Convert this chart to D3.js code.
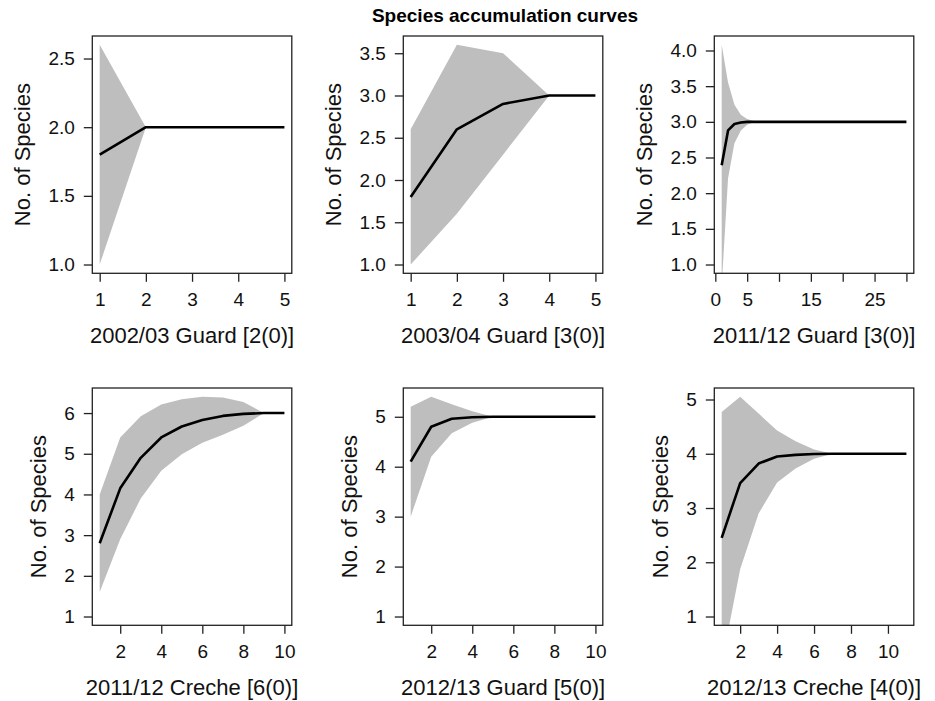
<!DOCTYPE html>
<html>
<head>
<meta charset="utf-8">
<script src="https://cdn.jsdelivr.net/npm/d3@7"></script>
<style>
	body { margin: 0; background: #fff; }
	svg { display: block; font-family: "Liberation Sans", Arial, sans-serif; }
</style>
</head>
<body>
<svg id="chart" width="935" height="701"></svg>
<script>
const chartTitle = 'Species accumulation curves';

// one entry per panel, reading order
const panelLabels = [
	'2002/03 Guard [2(0)]', '2003/04 Guard [3(0)]', '2011/12 Guard [3(0)]',
	'2011/12 Creche [6(0)]', '2012/13 Guard [5(0)]', '2012/13 Creche [4(0)]'
];

const sites1 = [1, 2, 3, 4, 5];
const richness1 = [1.8, 2, 2, 2, 2];
const upper1 = [2.6, 2, 2, 2, 2];
const lower1 = [1.0, 2, 2, 2, 2];

const sites2 = [1, 2, 3, 4, 5];
const richness2 = [1.8, 2.6, 2.9, 3, 3];
const upper2 = [2.6, 3.6, 3.5, 3, 3];
const lower2 = [1.0, 1.6, 2.3, 3, 3];

const sites3 = d3.range(1, 31);
const richness3 = [2.39, 2.88, 2.97, 2.99, 3, 3, 3, 3, 3, 3, 3, 3, 3, 3, 3,
	3, 3, 3, 3, 3, 3, 3, 3, 3, 3, 3, 3, 3, 3, 3];
const upper3 = [4.08, 3.55, 3.24, 3.1, 3.04, 3.01, 3, 3, 3, 3, 3, 3, 3, 3, 3,
	3, 3, 3, 3, 3, 3, 3, 3, 3, 3, 3, 3, 3, 3, 3];
const lower3 = [0.7, 2.21, 2.7, 2.88, 2.96, 2.99, 3, 3, 3, 3, 3, 3, 3, 3, 3,
	3, 3, 3, 3, 3, 3, 3, 3, 3, 3, 3, 3, 3, 3, 3];

const sites4 = [1, 2, 3, 4, 5, 6, 7, 8, 9, 10];
const richness4 = [2.8, 4.15, 4.9, 5.4, 5.67, 5.83, 5.93, 5.98, 6, 6];
const upper4 = [4.0, 5.4, 5.92, 6.21, 6.34, 6.4, 6.38, 6.27, 6, 6];
const lower4 = [1.6, 2.9, 3.9, 4.58, 4.99, 5.27, 5.47, 5.69, 6, 6];

const sites5 = [1, 2, 3, 4, 5, 6, 7, 8, 9, 10];
const richness5 = [4.1, 4.8, 4.96, 4.99, 5, 5, 5, 5, 5, 5];
const upper5 = [5.2, 5.4, 5.25, 5.11, 5, 5, 5, 5, 5, 5];
const lower5 = [3.0, 4.2, 4.67, 4.88, 5, 5, 5, 5, 5, 5];

const sites6 = [1, 2, 3, 4, 5, 6, 7, 8, 9, 10, 11];
const richness6 = [2.45, 3.46, 3.82, 3.95, 3.98, 3.995, 4, 4, 4, 4, 4];
const upper6 = [4.77, 5.05, 4.74, 4.43, 4.23, 4.08, 4, 4, 4, 4, 4];
const lower6 = [0.13, 1.87, 2.9, 3.47, 3.73, 3.91, 4, 4, 4, 4, 4];

// axis ticks as R printed them (it dropped labels that would collide)
const xTicks = [
	[1, 2, 3, 4, 5], [1, 2, 3, 4, 5], [0, 5, 10, 15, 20, 25, 30],
	[2, 4, 6, 8, 10], [2, 4, 6, 8, 10], [2, 4, 6, 8, 10]
];
const xTickLabels = [
	['1', '2', '3', '4', '5'], ['1', '2', '3', '4', '5'], ['0', '5', '', '15', '', '25', ''],
	['2', '4', '6', '8', '10'], ['2', '4', '6', '8', '10'], ['2', '4', '6', '8', '10']
];
const yTicks = [
	[1, 1.5, 2, 2.5], [1, 1.5, 2, 2.5, 3, 3.5], [1, 1.5, 2, 2.5, 3, 3.5, 4],
	[1, 2, 3, 4, 5, 6], [1, 2, 3, 4, 5], [1, 2, 3, 4, 5]
];
const yLabel = 'No. of Species';

const panels = [
	{sites: sites1, richness: richness1, upper: upper1, lower: lower1},
	{sites: sites2, richness: richness2, upper: upper2, lower: lower2},
	{sites: sites3, richness: richness3, upper: upper3, lower: lower3},
	{sites: sites4, richness: richness4, upper: upper4, lower: lower4},
	{sites: sites5, richness: richness5, upper: upper5, lower: lower5},
	{sites: sites6, richness: richness6, upper: upper6, lower: lower6}
].map((p, i) => Object.assign(p, {
	label: panelLabels[i], xTicks: xTicks[i], xTickLabels: xTickLabels[i], yTicks: yTicks[i]
}));

// layout (pixels)
const colLeft = [92.3, 403.3, 714.3];
const rowTop = [36, 388];
const boxW = 199.5;
const boxH = 237.3;
const tickLen = 8.5;
const tickFont = 19;
const labelFont = 22;

const svg = d3.select('#chart');

svg.append('text')
	.attr('x', 505)
	.attr('y', 22)
	.attr('text-anchor', 'middle')
	.attr('font-weight', 'bold')
	.attr('font-size', 19)
	.attr('fill', '#000')
	.text(chartTitle);

// R-style axis range: data range padded by 4% on each side
const padded = ([lo, hi]) => {
	const pad = (hi - lo) * 0.04;
	return [lo - pad, hi + pad];
};

panels.forEach((p, i) => {
	const g = svg.append('g')
		.attr('transform', `translate(${colLeft[i % 3]},${rowTop[Math.floor(i / 3)]})`);

	const x = d3.scaleLinear().domain(padded(d3.extent(p.sites))).range([0, boxW]);
	const y = d3.scaleLinear().domain(padded([1, d3.max(p.upper)])).range([boxH, 0]);

	const rows = p.sites.map((s, k) => ({s: s, r: p.richness[k], hi: p.upper[k], lo: p.lower[k]}));

	g.append('clipPath')
		.attr('id', 'clip-' + i)
		.append('rect')
		.attr('width', boxW)
		.attr('height', boxH);

	const plotArea = g.append('g').attr('clip-path', `url(#clip-${i})`);

	plotArea.append('path')
		.datum(rows)
		.attr('fill', '#bebebe')
		.attr('d', d3.area().x((d) => x(d.s)).y0((d) => y(d.lo)).y1((d) => y(d.hi)));

	plotArea.append('path')
		.datum(rows)
		.attr('fill', 'none')
		.attr('stroke', '#000')
		.attr('stroke-width', 2.6)
		.attr('stroke-linejoin', 'round')
		.attr('d', d3.line().x((d) => x(d.s)).y((d) => y(d.r)));

	const xAxis = g.append('g')
		.attr('transform', `translate(0,${boxH})`)
		.call(d3.axisBottom(x)
			.tickValues(p.xTicks)
			.tickSize(tickLen)
			.tickPadding(11)
			.tickFormat((d, k) => p.xTickLabels[k]));

	const yAxis = g.append('g')
		.call(d3.axisLeft(y)
			.tickValues(p.yTicks)
			.tickSize(tickLen)
			.tickPadding(9)
			.tickFormat(d3.format(i < 3 ? '.1f' : 'd')));

	[xAxis, yAxis].forEach((a) => {
		a.select('.domain').remove();
		a.selectAll('line').attr('stroke', '#222').attr('stroke-width', 1.3);
		a.selectAll('text')
			.attr('font-size', tickFont)
			.attr('fill', '#111')
			.attr('font-family', '"Liberation Sans", Arial, sans-serif');
	});

	g.append('rect')
		.attr('width', boxW)
		.attr('height', boxH)
		.attr('fill', 'none')
		.attr('stroke', '#222')
		.attr('stroke-width', 1.3);

	g.append('text')
		.attr('x', boxW / 2)
		.attr('y', boxH + 70)
		.attr('text-anchor', 'middle')
		.attr('font-size', labelFont)
		.attr('fill', '#111')
		.text(p.label);

	// y label sits a fixed gap left of the widest tick label
	const labelLeft = yAxis.node().getBBox().x;
	g.append('text')
		.attr('transform', `translate(${labelLeft - 18},${boxH / 2}) rotate(-90)`)
		.attr('text-anchor', 'middle')
		.attr('font-size', labelFont)
		.attr('fill', '#111')
		.text(yLabel);
});
</script>
</body>
</html>
